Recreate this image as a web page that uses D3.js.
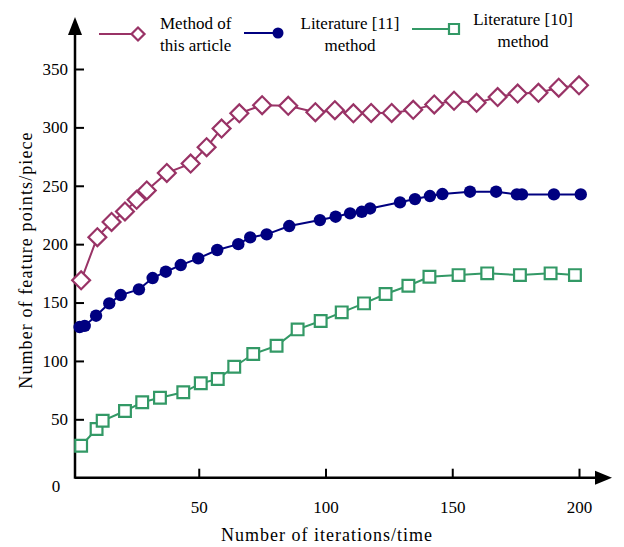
<!DOCTYPE html>
<html>
<head>
    <meta charset="utf-8">
    <script src="https://cdn.jsdelivr.net/npm/d3@7"></script>
    <style>
        body { margin: 0; background: #fff; }
        text { font-family: "Liberation Serif", "Times New Roman", serif; fill: #000; }
    </style>
</head>
<body>
    <div id="chart"></div>
    <script>
        // values: [iterations, feature points]
        const thisArticle = [[3.6,169],[10,206],[15.6,219],[20.9,228],[25.5,238],[29.5,246],[37.4,261],[46.8,269],[53.1,283],[59,299],[66,312],[75,319],[85.3,318.5],[96,313],[103.7,314.7],[111,312],[118,312.4],[126.1,312.4],[134.6,315],[142.9,319.7],[150.7,322.8],[159.6,321],[167.9,326],[175.8,329],[184,329.6],[192,334],[200,336]];
        const literature11 = [[3,129],[5,130],[9.5,138.7],[14.7,149.3],[19.2,156.4],[26.4,161.3],[31.8,171],[37,176.4],[42.9,182.1],[49.8,187.8],[57.3,195],[65.6,200],[70.3,205.8],[76.8,208.4],[85.7,215.5],[97.8,220.6],[104,223.5],[109.7,226.4],[114.3,227.7],[117.6,230.6],[129.4,235.8],[135.3,238.6],[141.2,241.2],[146.1,242.9],[157,244.9],[167.3,244.9],[175.5,242.6],[177.5,242.6],[190.1,242.6],[200.7,242.6]];
        const literature10 = [[3.6,27.4],[9.7,41.7],[12.1,48.8],[20.9,57.1],[27.7,64.6],[34.7,68.5],[43.9,73.1],[50.8,80.8],[57.5,84.5],[64,95],[71.5,105.9],[80.7,113],[89,127],[98.1,134.2],[106.4,141.6],[115.2,149.3],[123.7,157.3],[132.7,164.4],[141,172.1],[152.5,173.5],[163.8,175],[176.7,173.5],[188.8,175],[198.4,173.5]];

        const xTicks = [50, 100, 150, 200];
        const yTicks = [50, 100, 150, 200, 250, 300, 350];

        const width = 624, height = 547;
        const svg = d3.select("#chart").append("svg").attr("width", width).attr("height", height);

        const x = d3.scaleLinear().domain([0, 200]).range([72, 579]);
        const y = d3.scaleLinear().domain([0, 350]).range([477.7, 69]);
        const originX = 75;

        // axes (ticks point inward)
        const xAxis = svg.append("g").attr("transform", `translate(0,${y(0)})`)
            .call(d3.axisBottom(x).tickValues(xTicks).tickSizeInner(-9).tickSizeOuter(0).tickPadding(23));
        const yAxis = svg.append("g").attr("transform", `translate(${originX},0)`)
            .call(d3.axisLeft(y).tickValues(yTicks).tickSizeInner(-9).tickSizeOuter(0).tickPadding(7));
        [xAxis, yAxis].forEach(g => {
            g.select(".domain").remove();
            g.selectAll("line").attr("stroke", "#000").attr("stroke-width", 2);
            g.selectAll("text").style("font-size", "17px").style("font-family", "'Liberation Serif', serif");
        });

        svg.append("line").attr("x1", originX).attr("x2", 600).attr("y1", y(0)).attr("y2", y(0))
            .attr("stroke", "#000").attr("stroke-width", 2.5);
        svg.append("line").attr("x1", originX).attr("x2", originX).attr("y1", y(0) + 1).attr("y2", 34)
            .attr("stroke", "#000").attr("stroke-width", 2.5);
        svg.append("path").attr("d", `M612,${y(0)} L595,${y(0) - 7} L595,${y(0) + 7} Z`).attr("fill", "#000");
        svg.append("path").attr("d", `M${originX},17 L${originX - 7},35 L${originX + 7},35 Z`).attr("fill", "#000");

        svg.append("text").attr("x", 56).attr("y", 492).attr("text-anchor", "middle")
            .style("font-size", "17px").text("0");

        svg.append("text").attr("x", 327).attr("y", 541).attr("text-anchor", "middle")
            .style("font-size", "18px").style("letter-spacing", "1px").text("Number of iterations/time");
        svg.append("text").attr("transform", "translate(32,260) rotate(-90)").attr("text-anchor", "middle")
            .style("font-size", "18px").style("letter-spacing", "1.1px").text("Number of feature points/piece");

        const line = d3.line().x(d => x(d[0])).y(d => y(d[1]));

        const series = [
            { name: "this", data: thisArticle, color: "#993366", shape: "diamond" },
            { name: "lit11", data: literature11, color: "#000080", shape: "circle" },
            { name: "lit10", data: literature10, color: "#339966", shape: "square" }
        ];

        function marker(g, shape, color, small) {
            if (shape === "circle") {
                g.append("circle").attr("r", small ? 5.5 : 6.2).attr("fill", color);
            } else if (shape === "diamond") {
                g.append("path").attr("d", d3.symbol(d3.symbolSquare, small ? 85 : 160)()).attr("transform", "rotate(45)")
                    .attr("fill", "#fff").attr("stroke", color).attr("stroke-width", 2.2);
            } else {
                g.append("path").attr("d", d3.symbol(d3.symbolSquare, small ? 100 : 138)())
                    .attr("fill", "#fff").attr("stroke", color).attr("stroke-width", 2.2);
            }
        }

        series.forEach(s => {
            svg.append("path").datum(s.data).attr("d", line)
                .attr("fill", "none").attr("stroke", s.color).attr("stroke-width", 2);
            svg.append("g").selectAll("g").data(s.data).join("g")
                .attr("transform", d => `translate(${x(d[0])},${y(d[1])})`)
                .each(function () { marker(d3.select(this), s.shape, s.color, false); });
        });

        // legend
        const legend = [
            { s: series[0], x1: 99, x2: 136, my: 34, lines: ["Method of", "this article"], tx: 160, anchor: "start", ty: 29 },
            { s: series[1], x1: 244, x2: 276, my: 33, lines: ["Literature [11]", "method"], tx: 350, anchor: "middle", ty: 29 },
            { s: series[2], x1: 412, x2: 452, my: 29, lines: ["Literature [10]", "method"], tx: 523, anchor: "middle", ty: 25 }
        ];
        legend.forEach(l => {
            svg.append("line").attr("x1", l.x1).attr("x2", l.x2).attr("y1", l.my).attr("y2", l.my)
                .attr("stroke", l.s.color).attr("stroke-width", 2);
            const g = svg.append("g").attr("transform", `translate(${l.x2 + 2},${l.my})`);
            marker(g, l.s.shape, l.s.color, true);
            svg.append("text").attr("x", l.tx).attr("y", l.ty).attr("text-anchor", l.anchor)
                .style("font-size", "17px")
                .selectAll("tspan").data(l.lines).join("tspan")
                .attr("x", l.tx).attr("dy", (d, i) => i ? 22 : 0).text(d => d);
        });
    </script>
</body>
</html>
